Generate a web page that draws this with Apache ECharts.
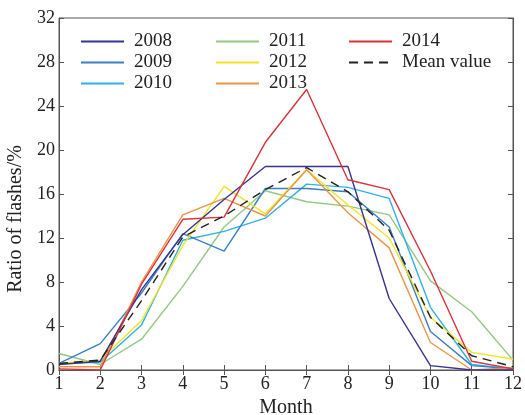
<!DOCTYPE html>
<html>
<head>
<meta charset="utf-8">
<script src="https://cdn.jsdelivr.net/npm/echarts@6/dist/echarts.min.js"></script>
<style>
  html, body { margin: 0; padding: 0; background: #fff; }
  #main { width: 525px; height: 415px; }
</style>
</head>
<body>
<div id="main"></div>
<script>
var months = ['1','2','3','4','5','6','7','8','9','10','11','12'];
var yTicks = [0, 4, 8, 12, 16, 20, 24, 28, 32];

var v2008 = [0.5, 0.8, 7.3, 12.3, 15.5, 18.5, 18.5, 18.5, 6.5, 0.4, 0.0, 0.0];
var v2009 = [0.6, 2.4, 7.0, 12.4, 10.8, 16.5, 16.5, 16.2, 13.0, 3.5, 0.4, 0.1];
var v2010 = [0.6, 0.7, 4.1, 11.8, 12.6, 13.8, 16.9, 16.6, 15.6, 5.7, 0.5, 0.1];
var v2011 = [1.5, 0.5, 2.8, 7.6, 13.0, 16.3, 15.3, 14.9, 14.1, 8.1, 5.3, 0.9];
var v2012 = [0.6, 0.9, 4.5, 11.3, 16.7, 14.2, 18.2, 15.0, 12.0, 4.8, 1.6, 1.0];
var v2013 = [0.3, 0.3, 8.0, 14.1, 15.6, 14.0, 18.2, 14.3, 11.1, 2.5, 0.0, 0.2];
var v2014 = [0.1, 0.0, 7.8, 13.7, 13.9, 20.7, 25.5, 17.3, 16.4, 9.0, 0.8, 0.1];
var vMean = [0.6, 0.9, 6.3, 12.1, 14.0, 16.4, 18.4, 16.2, 12.7, 4.8, 1.3, 0.3];

var font = 'Liberation Serif';

function line(name, data, color, dashed) {
    return {
        name: name,
        type: 'line',
        data: data,
        symbol: 'none',
        animation: false,
        lineStyle: { color: color, width: 1.4, type: dashed ? [9, 6] : 'solid' },
        itemStyle: { color: color }
    };
}

function legendCol(left, names) {
    return {
        orient: 'vertical',
        left: left,
        top: 27,
        itemWidth: 43,
        itemHeight: 10,
        itemGap: 2,
        data: names,
        itemStyle: { opacity: 0 },
        textStyle: { fontFamily: font, fontSize: 19, color: '#222', padding: [0, 0, 0, 5] }
    };
}

var chartDom = document.getElementById('main');
var myChart = echarts.init(chartDom);

var option = {
    animation: false,
    grid: {
        left: 59, right: 12, top: 18, bottom: 45,
        outerBoundsMode: 'none',
        show: true, borderColor: '#555', borderWidth: 1
    },
    legend: [
        legendCol(75, ['2008', '2009', '2010']),
        legendCol(210, ['2011', '2012', '2013']),
        legendCol(343, ['2014', 'Mean value'])
    ],
    xAxis: [
        {
            type: 'category',
            data: months,
            boundaryGap: false,
            name: 'Month',
            nameLocation: 'middle',
            nameGap: 26,
            nameTextStyle: { fontFamily: font, fontSize: 20, color: '#222' },
            axisLine: { lineStyle: { color: '#555' } },
            axisTick: { inside: true, length: 5, lineStyle: { color: '#555' } },
            axisLabel: { fontFamily: font, fontSize: 18, color: '#222', margin: 5 },
            splitLine: { show: false }
        },
        {
            type: 'category',
            data: months,
            boundaryGap: false,
            position: 'top',
            axisLine: { lineStyle: { color: '#555' } },
            axisTick: { inside: true, length: 5, lineStyle: { color: '#555' } },
            axisLabel: { show: false }
        }
    ],
    yAxis: [
        {
            type: 'value',
            min: 0,
            max: 32,
            interval: 4,
            name: 'Ratio of flashes/%',
            nameLocation: 'middle',
            nameGap: 31,
            nameTextStyle: { fontFamily: font, fontSize: 20, color: '#222', padding: [0, 50, 0, 0] },
            axisLine: { show: true, lineStyle: { color: '#555' } },
            axisTick: { show: true, inside: true, length: 5, lineStyle: { color: '#555' } },
            axisLabel: { fontFamily: font, fontSize: 18, color: '#222', margin: 4 },
            splitLine: { show: false }
        },
        {
            type: 'value',
            min: 0,
            max: 32,
            interval: 4,
            position: 'right',
            axisLine: { show: true, lineStyle: { color: '#555' } },
            axisTick: { show: true, inside: true, length: 5, lineStyle: { color: '#555' } },
            axisLabel: { show: false },
            splitLine: { show: false }
        }
    ],
    series: [
        line('2011', v2011, '#93c97f'),
        line('2010', v2010, '#2fb0ea'),
        line('2009', v2009, '#3a7fc6'),
        line('2012', v2012, '#f3e421'),
        line('2013', v2013, '#e8954a'),
        line('2008', v2008, '#37338f'),
        line('2014', v2014, '#d8333a'),
        line('Mean value', vMean, '#222222', true)
    ]
};

option && myChart.setOption(option);
</script>
</body>
</html>
